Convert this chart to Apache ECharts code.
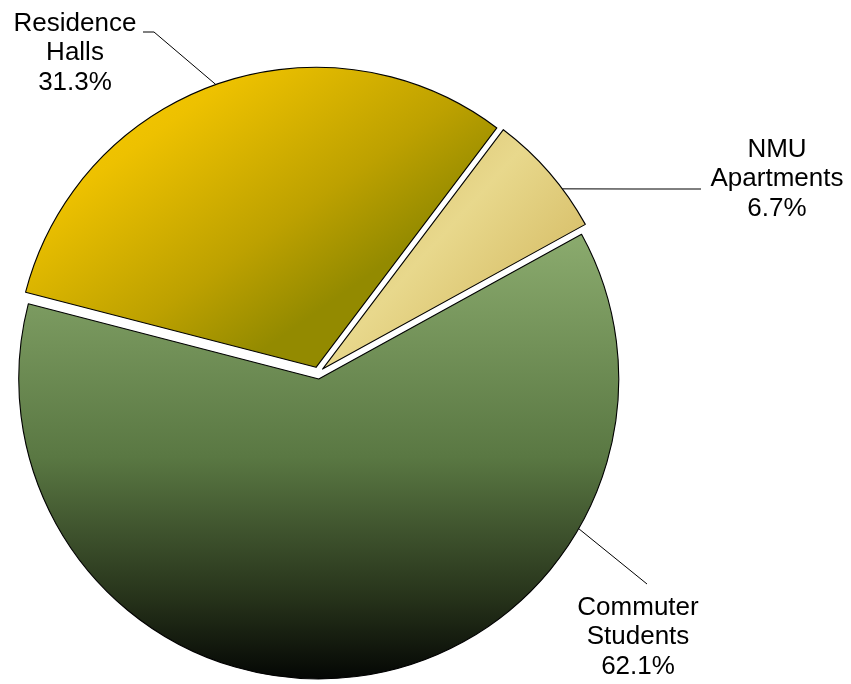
<!DOCTYPE html>
<html>
<head>
<meta charset="utf-8">
<script src="https://cdn.jsdelivr.net/npm/echarts@6/dist/echarts.min.js"></script>
<style>
  html, body { margin: 0; padding: 0; background: #ffffff; }
  #chart { width: 851px; height: 684px; }
</style>
</head>
<body>
<div id="chart"></div>
<script>
// ---- data ----
const categories = ['Residence Halls', 'NMU Apartments', 'Commuter Students'];
const labelNames = ['Residence\nHalls', 'NMU\nApartments', 'Commuter\nStudents'];
const values = [31.3, 6.7, 62.1];

// ---- style / layout ----
const CENTER = [318, 373];
const RADIUS = 300;
const START = 165.5;
const OFFSET = 6;
const fills = [
  { type: 'linear', x: 0, y: 0, x2: 0.45, y2: 1, colorStops: [
    { offset: 0, color: '#FFCF00' }, { offset: 0.35, color: '#EDC100' }, { offset: 0.75, color: '#BDA100' }, { offset: 1, color: '#938A00' } ] },
  { type: 'linear', x: 0, y: 0, x2: 1, y2: 1, colorStops: [
    { offset: 0, color: '#D2B862' }, { offset: 0.45, color: '#E8D88C' }, { offset: 1, color: '#CCAE52' } ] },
  { type: 'linear', x: 0, y: 0, x2: 0, y2: 1, colorStops: [
    { offset: 0, color: '#8BAB6E' }, { offset: 0.5, color: '#5A7843' }, { offset: 0.82, color: '#26321A' }, { offset: 1, color: '#040604' } ] }
];
// wanted label block centres and leader lines (rim anchor angle + bends)
const labelPlace = [
  { x: 75, y: 53, anchorDeg: 109.5, anchorR: 306, pts: [[154, 32], [143, 32]] },
  { x: 777, y: 179, anchorDeg: 37.0, anchorR: 306, pts: [[632, 189], [701, 189]] },
  { x: 638, y: 637, anchorDeg: -30.6, anchorR: 295, pts: [[610, 554], [647, 584]] }
];

// mid angles of the slices (same sweep as the library) to undo the explode offset
const total = values.reduce((a, b) => a + b, 0);
const mids = [];
{
  let a = START;
  values.forEach(v => { const sw = v / total * 360; mids.push(a - sw / 2); a -= sw; });
}
const offsets = mids.map(m => {
  const r = m * Math.PI / 180;
  return [OFFSET * Math.cos(r), -OFFSET * Math.sin(r)];
});

const seriesData = categories.map((c, i) => {
  const m = mids[i] * Math.PI / 180;
  const cs = Math.cos(m), sn = Math.sin(m);
  const pre = [labelPlace[i].x - offsets[i][0], labelPlace[i].y - offsets[i][1]];
  const rr = (CENTER[1] - pre[1]) / sn;
  const x2 = CENTER[0] + cs * rr;
  return {
    name: c,
    value: values[i],
    selected: true,
    itemStyle: { color: fills[i] },
    labelLine: { length: rr - RADIUS, length2: Math.abs(pre[0] - x2) }
  };
});

const chart = echarts.init(document.getElementById('chart'), null, { renderer: 'canvas' });

chart.setOption({
  animation: false,
  backgroundColor: '#ffffff',
  series: [{
    type: 'pie',
    center: CENTER,
    radius: RADIUS,
    startAngle: START,
    clockwise: true,
    selectedMode: 'multiple',
    selectedOffset: OFFSET,
    avoidLabelOverlap: false,
    silent: true,
    data: seriesData,
    itemStyle: { borderColor: '#000000', borderWidth: 1.1 },
    emphasis: { disabled: true },
    label: {
      show: true,
      position: 'outside',
      alignTo: 'none',
      distanceToLabelLine: 0,
      color: '#000000',
      fontFamily: 'Liberation Sans, Arial, sans-serif',
      fontSize: 26,
      lineHeight: 29.5,
      formatter: p => labelNames[p.dataIndex] + '\n' + p.value.toFixed(1) + '%'
    },
    labelLine: { show: true, smooth: false, lineStyle: { color: '#000000', width: 1 } },
    labelLayout: function (params) {
      const i = params.dataIndex;
      const L = labelPlace[i];
      const o = offsets[i];
      const a = L.anchorDeg * Math.PI / 180;
      const anchor = [CENTER[0] + L.anchorR * Math.cos(a), CENTER[1] - L.anchorR * Math.sin(a)];
      const pts = [anchor].concat(L.pts).map(p => [p[0] - o[0], p[1] - o[1]]);
      return {
        align: 'center',
        verticalAlign: 'middle',
        labelLinePoints: pts
      };
    }
  }]
});
</script>
</body>
</html>
